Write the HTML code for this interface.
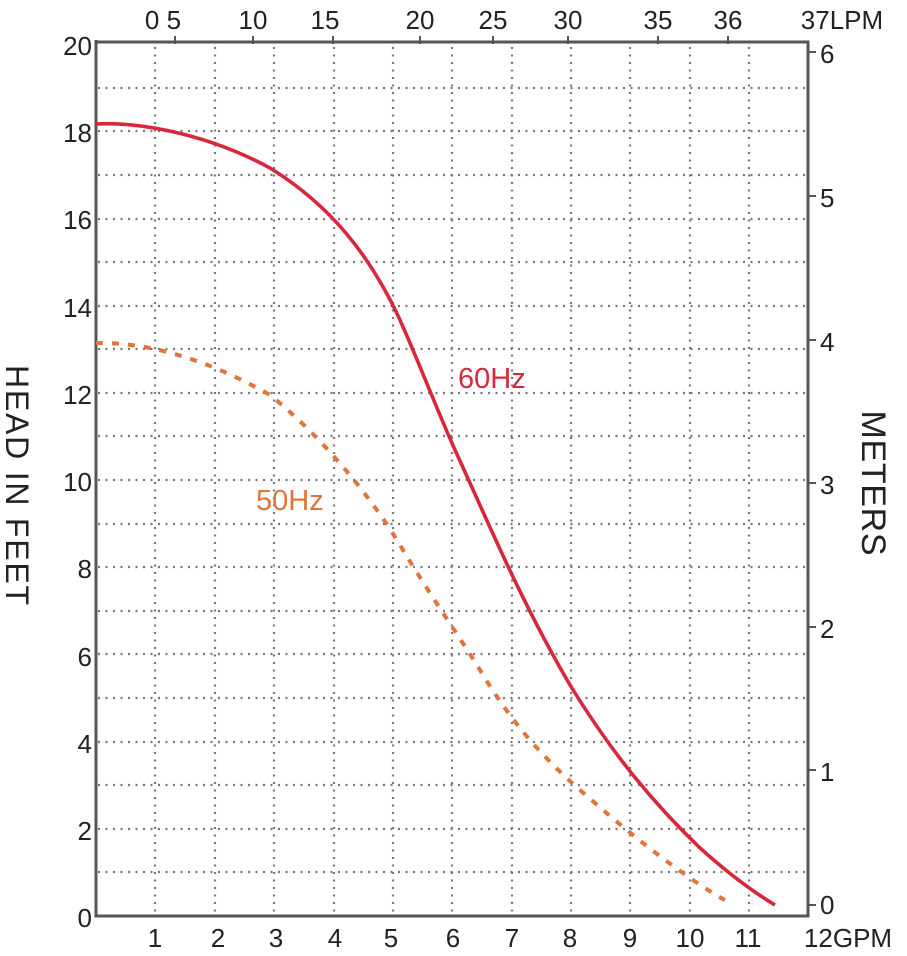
<!DOCTYPE html>
<html><head><style>body{margin:0;background:#fff}</style></head><body>
<svg width="907" height="951" viewBox="0 0 907 951" xmlns="http://www.w3.org/2000/svg" font-family="Liberation Sans, Arial, sans-serif">
<g stroke="#777" stroke-width="2.2" stroke-dasharray="2,5.5" fill="none">
<path d="M155 47V914M215 47V914M274 47V914M334 47V914M393 47V914M452 47V914M512 47V914M571 47V914M630 47V914M690 47V914M749 47V914"/>
<path d="M98 88H806M98 131H806M98 175H806M98 219H806M98 262H806M98 306H806M98 349H806M98 393H806M98 436H806M98 480H806M98 524H806M98 567H806M98 611H806M98 654H806M98 698H806M98 742H806M98 785H806M98 829H806M98 872H806"/>
</g>
<g stroke="#555" stroke-width="3" fill="none">
<path d="M96 40V916H808V42H96"/>
</g>
<g stroke="#555" stroke-width="2" fill="none">
<path d="M175 44V36M253 44V36M333 44V36M420 44V36M493 44V36M568 44V36M658 44V36M728 44V36"/>
<path d="M808 52H816M808 196H816M808 340H816M808 483H816M808 627H816M808 770H816M808 905H816"/>
</g>
<g font-size="26" fill="#222" text-anchor="end">
<text x="92" y="55">20</text><text x="92" y="142">18</text><text x="92" y="229">16</text><text x="92" y="317">14</text><text x="92" y="404">12</text><text x="92" y="491">10</text><text x="92" y="578">8</text><text x="92" y="666">6</text><text x="92" y="753">4</text><text x="92" y="840">2</text><text x="92" y="927">0</text>
</g>
<g font-size="26" fill="#222" text-anchor="start">
<text x="820" y="63">6</text><text x="820" y="207">5</text><text x="820" y="351">4</text><text x="820" y="494">3</text><text x="820" y="638">2</text><text x="820" y="781">1</text><text x="820" y="914">0</text>
</g>
<g font-size="26" fill="#222" text-anchor="middle">
<text x="155" y="947">1</text><text x="218" y="947">2</text><text x="276" y="947">3</text><text x="335" y="947">4</text><text x="391" y="947">5</text><text x="453" y="947">6</text><text x="512" y="947">7</text><text x="570" y="947">8</text><text x="630" y="947">9</text><text x="690" y="947">10</text><text x="748" y="947">11</text><text x="848" y="947">12GPM</text>
<text x="163" y="29">0 5</text><text x="253" y="29">10</text><text x="325" y="29">15</text><text x="420" y="29">20</text><text x="493" y="29">25</text><text x="568" y="29">30</text><text x="658" y="29">35</text><text x="728" y="29">36</text><text x="842" y="29">37LPM</text>
</g>
<text transform="translate(6,485) rotate(90)" font-size="32" fill="#222" text-anchor="middle" textLength="240">HEAD IN FEET</text>
<text transform="translate(862,483) rotate(90)" font-size="34" fill="#222" text-anchor="middle" textLength="145">METERS</text>
<path d="M96 124C130 122 200 130 270 168C330 205 370 255 400 320C420 365 435 405 455 450C485 515 520 600 570 685C610 750 650 800 700 848C730 875 755 893 775 905" stroke="#d6283a" stroke-width="3.6" fill="none"/>
<path d="M96 343C140 342 200 355 270 395C320 435 370 495 400 545C430 595 455 630 480 670C510 720 540 755 580 790C620 825 650 850 690 878C705 888 715 895 725 900" stroke="#e0743a" stroke-width="4" stroke-dasharray="7,9" fill="none"/>
<text x="458" y="388" font-size="29" fill="#d6283a">60Hz</text>
<text x="256" y="510" font-size="29" fill="#e0743a">50Hz</text>
</svg>
</body></html>
